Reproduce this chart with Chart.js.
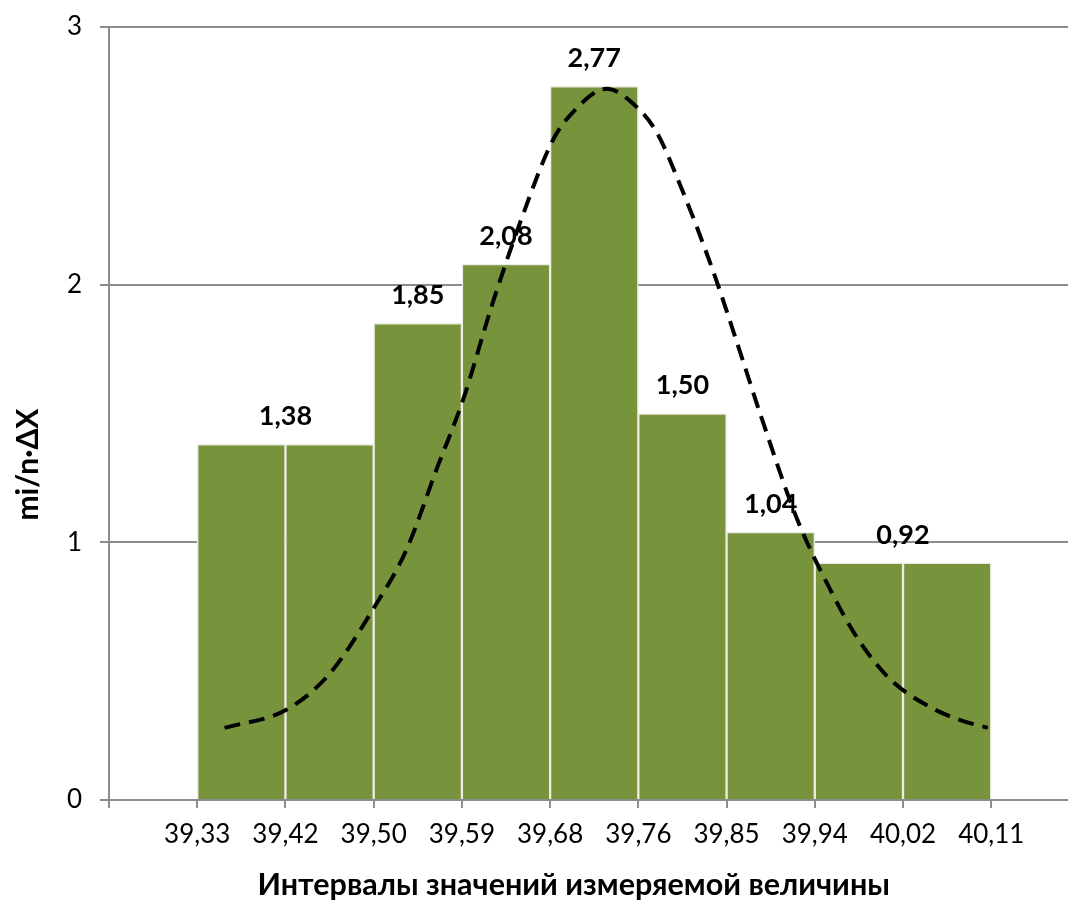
<!DOCTYPE html>
<html lang="ru">
<head>
  <meta charset="UTF-8">
  <title>Гистограмма</title>
  <script src="https://cdn.jsdelivr.net/npm/chart.js"></script>
  <style>
    html, body { margin: 0; padding: 0; background: #fff; }
    #wrap { width: 1068px; height: 920px; }
  </style>
</head>
<body>
  <div id="wrap"><canvas id="hist" width="1068" height="920"></canvas></div>

  <script>
    // границы интервалов (подписи оси X)
    const tickLabels = ['39,33', '39,42', '39,50', '39,59', '39,68', '39,76', '39,85', '39,94', '40,02', '40,11'];
    // высоты столбцов mi/n·ΔX
    const barValues = [1.38, 1.38, 1.85, 2.08, 2.77, 1.50, 1.04, 0.92, 0.92];
    // теоретическая кривая (x в номерах интервалов, 0 = 39,33)
    const curveX = [0.31, 1.01, 1.50, 2.01, 2.37, 2.72, 3.01, 3.35, 3.68, 4.03, 4.26, 4.64, 4.98, 5.21, 5.47, 5.85, 6.19, 6.38, 6.80, 7.17, 7.48, 7.85, 8.31, 8.65, 8.96];
    const curveY = [0.28, 0.35, 0.49, 0.75, 0.97, 1.29, 1.55, 1.93, 2.26, 2.56, 2.67, 2.76, 2.69, 2.59, 2.39, 2.05, 1.70, 1.50, 1.09, 0.82, 0.63, 0.47, 0.36, 0.31, 0.28];

    const gridColor = '#8c8c8c';
    const font = 'Lato, "Noto Sans", sans-serif';

    // подписи значений над столбцами (одинаковые соседние — одна подпись)
    const valueLabels = {
      id: 'valueLabels',
      afterDatasetsDraw(chart) {
        const meta = chart.getDatasetMeta(1);
        const ctx = chart.ctx;
        ctx.save();
        ctx.font = 'bold 27px ' + font;
        ctx.fillStyle = '#000';
        ctx.textAlign = 'center';
        ctx.textBaseline = 'middle';
        for (let i = 0; i < barValues.length; i++) {
          const bar = meta.data[i];
          let x = bar.x;
          const pair = barValues[i + 1] === barValues[i];
          if (pair) x = (bar.x + meta.data[i + 1].x) / 2;
          ctx.fillText(barValues[i].toFixed(2).replace('.', ','), x, bar.y - 28);
          if (pair) i++;
        }
        ctx.restore();
      }
    };

    new Chart(document.getElementById('hist'), {
      type: 'bar',
      data: {
        datasets: [{
          type: 'line',
          data: curveX.map((x, i) => ({ x: x, y: curveY[i] })),
          borderColor: '#000',
          borderWidth: 4,
          borderDash: [16, 9],
          pointRadius: 0,
          cubicInterpolationMode: 'monotone',
          fill: false,
          order: 1
        }, {
          type: 'bar',
          data: barValues.map((v, i) => ({ x: i + 0.5, y: v })),
          backgroundColor: '#77933C',
          borderColor: '#EEECE1',
          borderWidth: 1.5,
          borderSkipped: 'bottom',
          barPercentage: 1,
          categoryPercentage: 1,
          order: 2
        }]
      },
      options: {
        responsive: false,
        animation: false,
        layout: { padding: { top: 27, right: 0, bottom: 0, left: 0 } },
        plugins: {
          legend: { display: false },
          tooltip: { enabled: false }
        },
        scales: {
          x: {
            type: 'linear',
            min: -1,
            max: 9.87,
            offset: false,
            afterBuildTicks: (scale) => {
              scale.ticks = [];
              for (let v = -1; v <= 9; v++) scale.ticks.push({ value: v });
            },
            afterFit: (scale) => {
              scale.height = 120;
              scale.paddingLeft = 0;
              scale.paddingRight = 0;
            },
            ticks: {
              autoSkip: false,
              maxRotation: 0,
              padding: 11,
              color: '#000',
              font: { family: font, size: 26 },
              callback: (v) => tickLabels[v] !== undefined ? tickLabels[v] : ''
            },
            grid: {
              offset: false,
              drawOnChartArea: false,
              drawTicks: true,
              tickLength: 8,
              color: gridColor,
              lineWidth: 2
            },
            border: { color: gridColor, width: 2 },
            title: {
              display: true,
              text: 'Интервалы значений измеряемой величины    ',
              color: '#000',
              font: { family: font, size: 30.5, weight: 'bold' },
              padding: { top: 0, bottom: 17 }
            }
          },
          y: {
            min: 0,
            max: 3,
            afterFit: (scale) => {
              scale.width = 109;
              scale.paddingTop = 0;
              scale.paddingBottom = 0;
            },
            ticks: {
              stepSize: 1,
              padding: 18,
              color: '#000',
              font: { family: font, size: 26 }
            },
            grid: {
              color: gridColor,
              lineWidth: 2,
              tickLength: 9
            },
            border: { color: gridColor, width: 2 },
            title: {
              display: true,
              text: 'mi/n·ΔX              ',
              color: '#000',
              font: { family: font, size: 30, weight: 'bold' },
              padding: { top: 10, bottom: 0 }
            }
          }
        }
      },
      plugins: [valueLabels]
    });
  </script>
</body>
</html>
